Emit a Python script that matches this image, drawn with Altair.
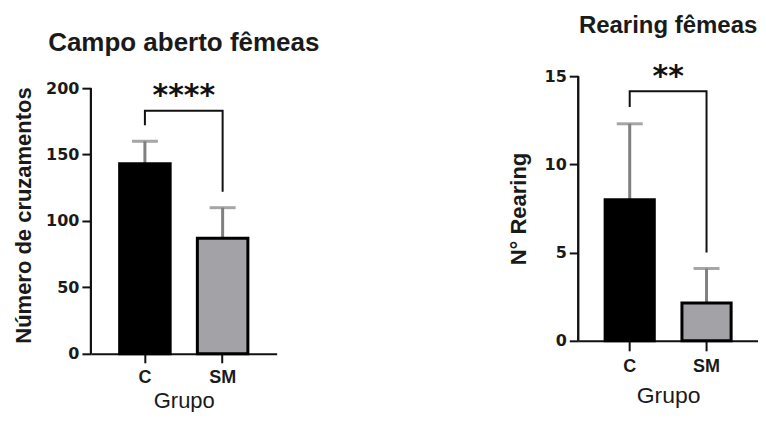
import altair as alt
import pandas as pd

groups = ["C", "SM"]
fills = ["#000000", "#a3a3a7"]

# Campo aberto fêmeas
cross_mean = [143, 87]
cross_upper = [160, 110]
cross_ticks = [0, 50, 100, 150, 200]
cross_bracket_y = [172, 183, 183, 122]
cross_star_y = 197
cross_stars = "****"

# Rearing fêmeas
rear_mean = [8.0, 2.15]
rear_upper = [12.3, 4.1]
rear_ticks = [0, 5, 10, 15]
rear_bracket_y = [13.25, 14.15, 14.15, 5.0]
rear_star_y = 15.2
rear_stars = "**"

bracket_x = ["C", "C", "SM", "SM"]


def panel(means, uppers, ticks, dom_max, bracket_y, star_y, stars, title, ytitle,
          width, height, pi, po, star_dx, title_size, title_offset, ytitle_pad,
          xtick, xlabpad, xtitlepad, xtitlesize):
    df = pd.DataFrame({"g": groups, "mean": means, "upper": uppers})
    br = pd.DataFrame({"g": bracket_x, "y": bracket_y, "o": [0, 1, 2, 3]})
    st = pd.DataFrame({"g": ["C"], "y": [star_y], "t": [stars]})

    xscale = alt.Scale(domain=groups, paddingInner=pi, paddingOuter=po)
    yscale = alt.Scale(domain=[0, dom_max], nice=False, zero=True)
    xaxis = alt.Axis(title="Grupo", labelAngle=0, labelFont="Liberation Sans",
                     labelFontWeight="bold", labelFontSize=18, labelColor="#1a1a1a",
                     labelPadding=xlabpad, tickSize=xtick, tickWidth=2, tickColor="#111",
                     domainColor="#111", domainWidth=2,
                     titleFont="Liberation Sans", titleFontWeight="normal",
                     titleFontSize=xtitlesize, titleColor="#1a1a1a",
                     titlePadding=xtitlepad)
    yaxis = alt.Axis(title=ytitle, values=ticks, labelFont="DejaVu Sans",
                     labelFontWeight="bold", labelFontSize=16, labelColor="#1a1a1a",
                     labelPadding=3, tickSize=9, tickWidth=2, tickColor="#111",
                     domain=False, grid=False,
                     titleFont="Liberation Sans", titleFontWeight="bold",
                     titleFontSize=22, titleColor="#1a1a1a", titlePadding=ytitle_pad)

    err = alt.Chart(df).mark_rule(color="#808080", strokeWidth=3).encode(
        x=alt.X("g:N", scale=xscale, axis=xaxis),
        y=alt.Y("mean:Q", scale=yscale, axis=yaxis),
        y2="upper:Q",
    )
    # y axis line, from 0 to the last tick
    yline = alt.Chart(df).mark_rule(color="#111", strokeWidth=2).encode(
        x=alt.value(0), y=alt.datum(0), y2=alt.datum(ticks[-1]))
    cap = alt.Chart(df).mark_tick(color="#808080", size=26, thickness=3).encode(
        x=alt.X("g:N"), y=alt.Y("upper:Q"))
    bars = alt.Chart(df).mark_bar(stroke="#000000", strokeWidth=3).encode(
        x=alt.X("g:N"),
        y=alt.Y("mean:Q"),
        fill=alt.Color("g:N", scale=alt.Scale(domain=groups, range=fills), legend=None),
    )
    brk = alt.Chart(br).mark_line(color="#111", strokeWidth=2).encode(
        x=alt.X("g:N"), y=alt.Y("y:Q"), order="o:Q")
    txt = alt.Chart(st).mark_text(font="DejaVu Sans", fontWeight="bold", fontSize=30,
                                  color="#111", dx=star_dx, baseline="middle",
                                  dy=4).encode(
        x=alt.X("g:N"), y=alt.Y("y:Q"), text="t:N")

    return alt.layer(err, yline, cap, bars, brk, txt).properties(
        width=width, height=height,
        title=alt.TitleParams(title, font="Liberation Sans", fontSize=title_size,
                              fontWeight="bold", color="#1a1a1a", anchor="middle",
                              offset=title_offset),
    )


left = panel(cross_mean, cross_upper, cross_ticks, 209, cross_bracket_y, cross_star_y,
             cross_stars, "Campo aberto fêmeas", "Número de cruzamentos",
             186, 278, 0.35, 0.37, 39, 26, 20, 10,
             9, 6, 4, 22)
right = panel(rear_mean, rear_upper, rear_ticks, 15, rear_bracket_y, rear_star_y,
              rear_stars, "Rearing fêmeas", "N° Rearing",
              180, 265, 0.36, 0.35, 38.5, 24, 24, 14,
              10, 7, 9, 23)

chart = alt.hconcat(left, right, spacing=187).configure_view(stroke=None).properties(
    padding={"left": 4, "top": 5, "right": 0, "bottom": 0}, background="white")

chart.save("out.html", embed_options={"renderer": "svg", "actions": False})
